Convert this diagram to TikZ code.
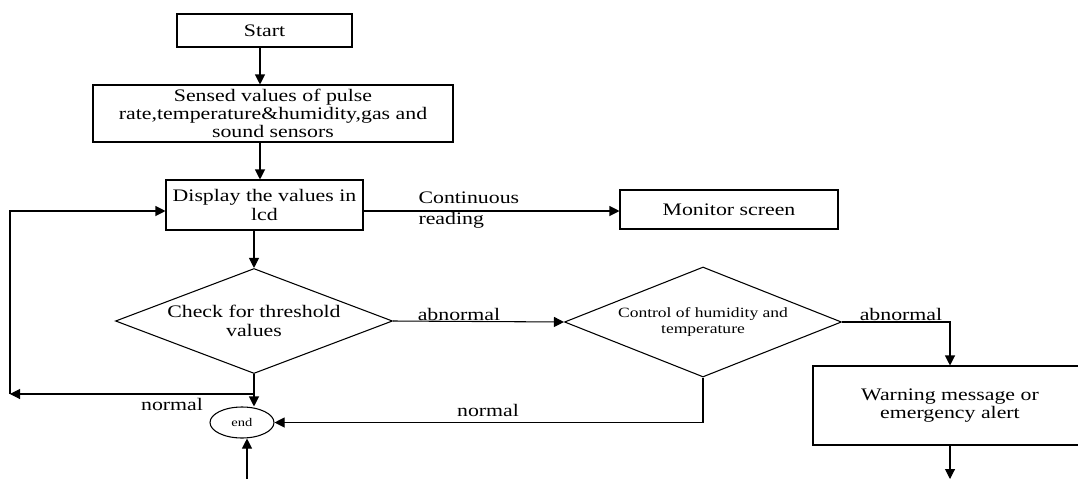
\documentclass[tikz,border=0pt]{standalone}
\usepackage{fontspec}
\setmainfont[FakeStretch=1.24]{Liberation Serif}
\usetikzlibrary{shapes.geometric,arrows.meta}
\begin{document}
\begin{tikzpicture}[x=0.75pt,y=-0.75pt,
  line width=0.8pt,
  every node/.style={inner sep=0pt,font=\fontsize{13.2pt}{13.7pt}\selectfont},
  box/.style={draw,rectangle,align=center},
  dia/.style={draw,diamond,align=center,aspect=2.64},
  lbl/.style={align=left},
  arr/.style={-{Triangle[length=7.5pt,width=7.5pt]}}]
\useasboundingbox (0,0) rectangle (1078,479);
\clip (0,0) rectangle (1078,479);
% nodes
\node[box,minimum width=131.25pt,minimum height=24.75pt] (start) at (264.5,30.5) {Start};
\node[box,minimum width=270pt,minimum height=42.75pt] (sensed) at (273,113.5) {Sensed values of pulse\\rate,temperature\&humidity,gas and\\sound sensors};
\node[box,minimum width=147.75pt,minimum height=37.5pt] (disp) at (264.5,205) {Display the values in\\lcd};
\node[box,minimum width=163.5pt,minimum height=29.25pt] (mon) at (729,209.5) {Monitor screen};
\node[dia,minimum width=207.75pt,minimum height=78.75pt] (d1) at (254,321) {Check for threshold\\values};
\node[dia,minimum width=207.75pt,minimum height=82.5pt,font=\fontsize{10.6pt}{12.5pt}\selectfont] (d2) at (703,322) {Control of humidity and\\temperature};
\node[box,minimum width=205.5pt,minimum height=59.25pt] (warn) at (950,405.5) {Warning message or\\emergency alert};
\node[draw,ellipse,minimum width=48pt,minimum height=23.25pt,font=\fontsize{8.8pt}{10pt}\selectfont] (end) at (242,422.5) {end};
% labels
\node[lbl,anchor=west,font=\fontsize{13.2pt}{16pt}\selectfont] (lcont) at (418,210) {Continuous\\reading};
\node (lab1) at (459,314) {abnormal};
\node (lab2) at (901,314) {abnormal};
\node (lnorm1) at (172,404) {normal};
\node (lnorm2) at (488,410) {normal};
% helper coordinates
\coordinate (cx) at (260,0);
\coordinate (ay) at (0,211);
\coordinate (j1) at (254,394);
\coordinate (cl) at (10,394);
\coordinate (eb) at (247,479);
\coordinate (wb) at (950,479);
% connectors
\draw[arr] (start.south -| cx) -- (sensed.north -| cx);
\draw[arr] (sensed.south -| cx) -- (disp.north -| cx);
\draw[arr] (disp.south -| d1.north) -- (d1.north);
\draw[arr] (disp.east |- ay) -- (mon.west |- ay);
\draw[arr] (d1.east) -- (d2.west);
\draw[arr] (d2.east) -| (warn.north);
\draw[arr] (warn.south) -- (wb);
\draw[arr] (d2.south) |- (end.east);
\draw[arr] (d1.south) -- (d1.south |- end.north);
\draw[arr] (j1) -- (cl);
\draw[arr] (cl) |- (disp.west |- ay);
\draw[arr] (eb) -- (eb |- end.south);
\end{tikzpicture}
\end{document}
